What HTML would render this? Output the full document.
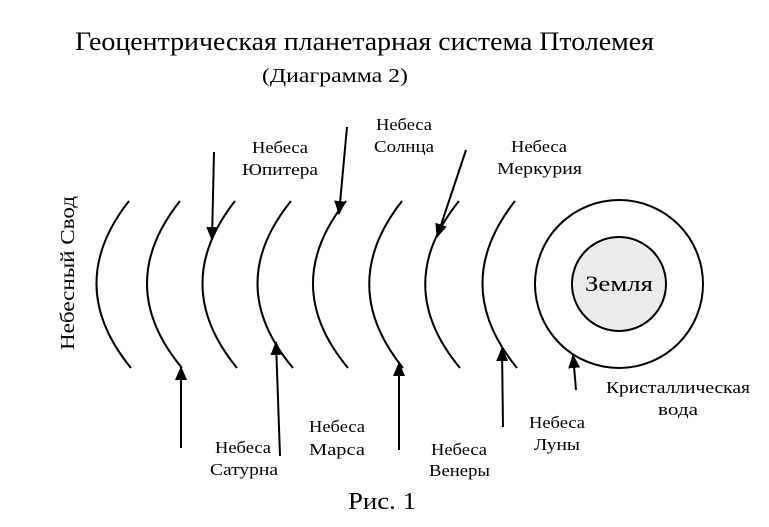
<!DOCTYPE html>
<html><head><meta charset="utf-8"><style>
html,body{margin:0;padding:0;background:#fff;}
svg{display:block;}
</style></head><body>
<svg width="769" height="527" viewBox="0 0 769 527" xmlns="http://www.w3.org/2000/svg" font-family="'Liberation Serif', 'DejaVu Serif', serif">
<defs>
<marker id="a" viewBox="0 0 14 12" refX="13" refY="6" markerWidth="14" markerHeight="12" markerUnits="userSpaceOnUse" orient="auto">
<path d="M0,0 L14,6 L0,12 z" fill="#000"/></marker>
</defs>
<text x="75" y="50" font-size="26" font-family="Liberation Serif, serif" textLength="579" lengthAdjust="spacingAndGlyphs">Геоцентрическая планетарная система Птолемея</text>
<text x="262" y="82" font-size="20" font-family="Liberation Serif, serif" textLength="146" lengthAdjust="spacingAndGlyphs">(Диаграмма 2)</text>
<text transform="translate(74,350) rotate(-90)" font-size="20" font-family="Liberation Serif, serif" textLength="154" lengthAdjust="spacingAndGlyphs">Небесный Свод</text>
<g fill="none" stroke="#000" stroke-width="2">
<path d="M129,201 Q63,285 131,368"/>
<path d="M180,201 Q113,285 182,368"/>
<path d="M235,201 Q169,285 237,368"/>
<path d="M291,201 Q223,285 293,368"/>
<path d="M346,201 Q279,285 348,368"/>
<path d="M402,201 Q336,285 403,368"/>
<path d="M459,201 Q391,285 460,368"/>
<path d="M515,201 Q449,285 517,368"/>
<circle cx="619" cy="284" r="84"/>
<circle cx="619" cy="284" r="47" fill="#ebebeb"/>
</g>
<g stroke="#000" stroke-width="2" marker-end="url(#a)">
<line x1="214" y1="152" x2="212" y2="240"/>
<line x1="347" y1="127" x2="339" y2="214"/>
<line x1="466" y1="150" x2="437" y2="237"/>
<line x1="181" y1="448" x2="181" y2="367"/>
<line x1="280" y1="456" x2="276" y2="342"/>
<line x1="399" y1="450" x2="399" y2="363"/>
<line x1="503" y1="427" x2="502" y2="348"/>
<line x1="576" y1="390" x2="573" y2="355"/>
</g>
<g font-size="17" font-family="Liberation Serif, serif">
<text x="252" y="153" textLength="56" lengthAdjust="spacingAndGlyphs">Небеса</text><text x="242" y="175" textLength="76" lengthAdjust="spacingAndGlyphs">Юпитера</text>
<text x="376" y="130" textLength="56" lengthAdjust="spacingAndGlyphs">Небеса</text><text x="374" y="152" textLength="60" lengthAdjust="spacingAndGlyphs">Солнца</text>
<text x="511" y="152" textLength="56" lengthAdjust="spacingAndGlyphs">Небеса</text><text x="497" y="174" textLength="85" lengthAdjust="spacingAndGlyphs">Меркурия</text>
<text x="215" y="453" textLength="56" lengthAdjust="spacingAndGlyphs">Небеса</text><text x="210" y="475" textLength="68" lengthAdjust="spacingAndGlyphs">Сатурна</text>
<text x="309" y="432" textLength="56" lengthAdjust="spacingAndGlyphs">Небеса</text><text x="309" y="455" textLength="56" lengthAdjust="spacingAndGlyphs">Марса</text>
<text x="431" y="455" textLength="56" lengthAdjust="spacingAndGlyphs">Небеса</text><text x="429" y="476" textLength="61" lengthAdjust="spacingAndGlyphs">Венеры</text>
<text x="529" y="428" textLength="56" lengthAdjust="spacingAndGlyphs">Небеса</text><text x="534" y="450" textLength="46" lengthAdjust="spacingAndGlyphs">Луны</text>
<text x="606" y="393" textLength="144" lengthAdjust="spacingAndGlyphs">Кристаллическая</text><text x="658" y="415" textLength="40" lengthAdjust="spacingAndGlyphs">вода</text>
</g>
<text x="585" y="291" font-size="22" font-family="Liberation Serif, serif" textLength="68" lengthAdjust="spacingAndGlyphs">Земля</text>
<text x="348" y="509" font-size="24" font-family="Liberation Serif, serif" textLength="68" lengthAdjust="spacingAndGlyphs">Рис. 1</text>
</svg>
</body></html>
